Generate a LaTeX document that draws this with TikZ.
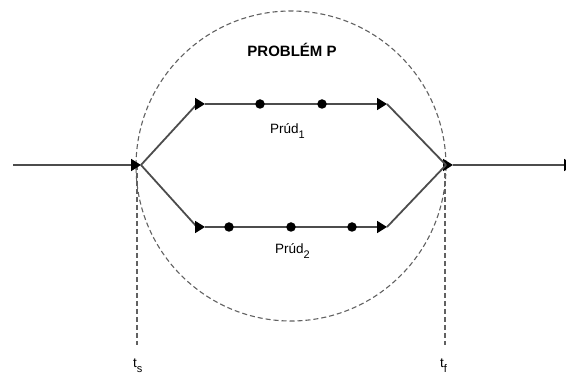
\documentclass[tikz,border=0pt]{standalone}
\usepackage{fontspec}
\setmainfont{Liberation Sans}
\usetikzlibrary{arrows.meta}
% subscript set a little larger than \textsubscript
\newcommand{\lowidx}[1]{\raisebox{-0.32em}{\fontsize{11}{13}\selectfont #1}}
\tikzset{
  flow/.style={line width=1.8pt, draw=black!70},
  tri/.style={-{Triangle[length=10pt,width=12pt,fill=black,color=black]}},
  bound/.style={line width=1.1pt, draw=black!62, dash pattern=on 5pt off 3pt},
  event/.style={circle, fill=black, inner sep=0pt, minimum size=9.5pt},
  lbl/.style={inner sep=0pt, font=\fontsize{13.5}{16}\selectfont},
  title/.style={inner sep=0pt, font=\fontsize{15}{18}\selectfont\bfseries}
}
\begin{document}
\begin{tikzpicture}[x=1pt,y=-1pt]
\useasboundingbox (0,0) rectangle (566,379);

% main points of the flow
\coordinate (S) at (13,165);
\coordinate (ts) at (141,165);
\coordinate (tf) at (446,165);
\coordinate (tft) at (453,165);
\coordinate (E) at (574,165);
\coordinate (U1) at (197,104);
\coordinate (U1t) at (205,104);
\coordinate (U2) at (387,104);
\coordinate (L1) at (197,227);
\coordinate (L1t) at (205,227);
\coordinate (L2) at (387,227);

% problem boundary
\coordinate (C) at (291,166);
\draw[bound] (C) circle[radius=155];
\coordinate (ts0) at (137,165);
\coordinate (tsb) at (137,345);
\coordinate (tf0) at (445,165);
\coordinate (tfb) at (445,345);
\draw[bound] (ts0) -- (tsb);
\draw[bound] (tf0) -- (tfb);

% input and output
\draw[flow,tri] (S) -- (ts);
\draw[flow,tri] (tf) -- (tft);
\draw[flow,tri] (tft) -- (E);

% stream 1
\draw[flow] (ts) -- (U1);
\draw[flow,tri] (U1) -- (U1t);
\draw[flow,tri] (U1t) -- (U2);
\draw[flow] (U2) -- (tf);

% stream 2
\draw[flow] (ts) -- (L1);
\draw[flow,tri] (L1) -- (L1t);
\draw[flow,tri] (L1t) -- (L2);
\draw[flow] (L2) -- (tf);

% events on the streams
\node[event] (a1) at (260,104) {};
\node[event] (a2) at (322,104) {};
\node[event] (b1) at (229,227) {};
\node[event] (b2) at (291,227) {};
\node[event] (b3) at (352,227) {};

% labels
\node[title, anchor=base] (title) at (292,57) {PROBLÉM P};
\node[lbl, anchor=base west] (p1) at (270,134) {Prúd\lowidx{1}};
\node[lbl, anchor=base west] (p2) at (275,254) {Prúd\lowidx{2}};
\node[lbl, anchor=base west] (lts) at (133,368) {t\lowidx{s}};
\node[lbl, anchor=base west] (ltf) at (440,368) {t\lowidx{f}};
\end{tikzpicture}
\end{document}
